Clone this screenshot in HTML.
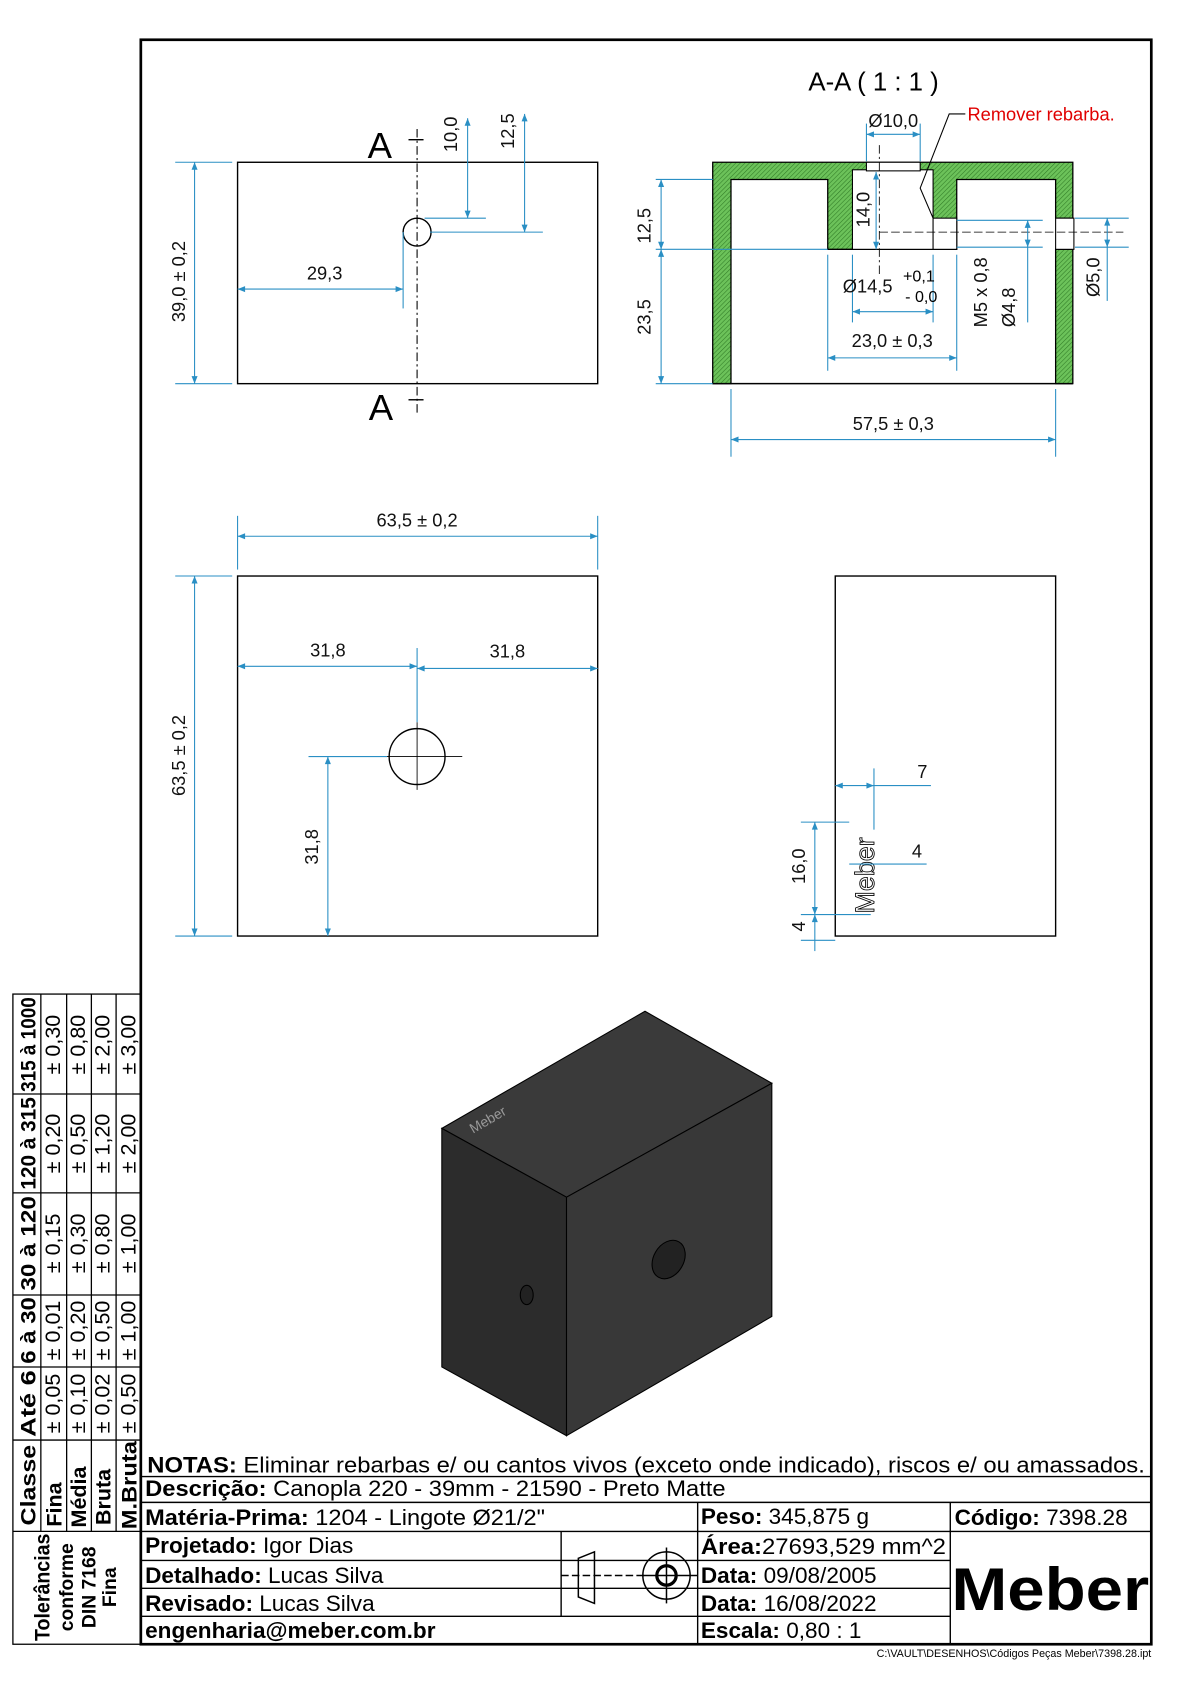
<!DOCTYPE html>
<html><head><meta charset="utf-8"><style>
html,body{margin:0;padding:0;background:#fff}
svg{display:block}
text{font-family:"Liberation Sans",Arial,sans-serif}
.d{stroke:#2a8fc4;stroke-width:1;fill:none}
.k{stroke:#000;stroke-width:1.3;fill:none}
.t{font-size:17px;fill:#111}
.n{font-family:"Liberation Sans Narrow","Liberation Sans",sans-serif;font-size:21px;fill:#000}
</style></head><body>
<svg width="1190" height="1684" viewBox="0 0 1107 1567" preserveAspectRatio="none" xmlns="http://www.w3.org/2000/svg">
<defs>
<marker id="a" viewBox="0 0 10 10" refX="10" refY="5" markerWidth="9" markerHeight="7" orient="auto-start-reverse" markerUnits="userSpaceOnUse"><path d="M0,1 L10,5 L0,9z" fill="#2a8fc4"/></marker>
<pattern id="h" width="3" height="3" patternUnits="userSpaceOnUse" patternTransform="rotate(45)"><rect width="3" height="3" fill="#6cc25a"/><line x1="0" y1="0" x2="0" y2="3" stroke="#2f7a25" stroke-width="1"/></pattern>
</defs>
<rect x="131" y="37" width="940" height="1493" fill="none" stroke="#000" stroke-width="2.5"/>

<!-- TOP VIEW -->
<rect x="221" y="151" width="335" height="206" class="k"/>
<line x1="388" y1="120" x2="388" y2="385" stroke="#000" stroke-width="1" stroke-dasharray="8,3,2,3"/>
<circle cx="388" cy="216" r="13" class="k"/>
<line x1="380" y1="130" x2="394" y2="130" stroke="#000" stroke-width="1.3"/>
<line x1="380" y1="372" x2="394" y2="372" stroke="#000" stroke-width="1.3"/>
<text x="342" y="147" font-size="34">A</text>
<text x="343" y="391" font-size="34">A</text>
<line x1="163" y1="151" x2="216" y2="151" class="d"/><line x1="163" y1="357" x2="216" y2="357" class="d"/>
<line x1="181" y1="151" x2="181" y2="357" class="d" marker-start="url(#a)" marker-end="url(#a)"/>
<text class="t" transform="translate(172,262) rotate(-90)" text-anchor="middle">39,0 ± 0,2</text>
<line x1="221" y1="269" x2="375" y2="269" class="d" marker-start="url(#a)" marker-end="url(#a)"/>
<line x1="375" y1="216" x2="375" y2="287" class="d"/>
<text class="t" x="302" y="260" text-anchor="middle">29,3</text>
<line x1="435" y1="110" x2="435" y2="203" class="d" marker-start="url(#a)" marker-end="url(#a)"/>
<line x1="395" y1="203" x2="452" y2="203" class="d"/>
<text class="t" transform="translate(425,125) rotate(-90)" text-anchor="middle">10,0</text>
<line x1="488" y1="106" x2="488" y2="216" class="d" marker-start="url(#a)" marker-end="url(#a)"/>
<line x1="400" y1="216" x2="505" y2="216" class="d"/>
<text class="t" transform="translate(478,122) rotate(-90)" text-anchor="middle">12,5</text>

<!-- SECTION A-A -->
<text x="752" y="84" font-size="24">A-A  ( 1 : 1 )</text>
<path d="M663,151 H998 V357 H982 V232 H998 V203 H982 V167 H890 V232 H770 V167 H680 V357 H663 Z" fill="url(#h)" stroke="#000" stroke-width="1.2"/>
<rect x="793" y="158" width="75" height="74" fill="#fff" stroke="#000" stroke-width="1"/>
<rect x="806" y="151" width="50" height="8" fill="#fff" stroke="#000" stroke-width="1"/>
<rect x="868" y="203" width="22" height="29" fill="#fff" stroke="#000" stroke-width="1"/>
<rect x="982" y="203" width="17" height="29" fill="#fff" stroke="#000" stroke-width="1"/>
<line x1="663" y1="357" x2="998" y2="357" stroke="#000" stroke-width="1.4"/>
<line x1="818" y1="135" x2="818" y2="257" stroke="#000" stroke-width="0.8" stroke-dasharray="8,3,2,3"/>
<line x1="818" y1="216" x2="1045" y2="216" stroke="#000" stroke-width="0.8" stroke-dasharray="8,3"/>
<text x="900" y="112" font-size="17" fill="#e00000">Remover rebarba.</text>
<polyline points="898,106 883,106 856,175 868,203" fill="none" stroke="#000" stroke-width="1"/>
<line x1="806" y1="115" x2="806" y2="150" class="d"/><line x1="856" y1="115" x2="856" y2="150" class="d"/>
<line x1="806" y1="125" x2="856" y2="125" class="d" marker-start="url(#a)" marker-end="url(#a)"/>
<text class="t" x="831" y="118" text-anchor="middle">Ø10,0</text>
<line x1="815" y1="160" x2="815" y2="232" class="d" marker-start="url(#a)" marker-end="url(#a)"/>
<text class="t" transform="translate(809,195) rotate(-90)" text-anchor="middle">14,0</text>
<line x1="610" y1="167" x2="663" y2="167" class="d"/><line x1="610" y1="232" x2="770" y2="232" class="d"/><line x1="610" y1="357" x2="663" y2="357" class="d"/>
<line x1="615" y1="167" x2="615" y2="232" class="d" marker-start="url(#a)" marker-end="url(#a)"/>
<line x1="615" y1="232" x2="615" y2="357" class="d" marker-start="url(#a)" marker-end="url(#a)"/>
<text class="t" transform="translate(605,210) rotate(-90)" text-anchor="middle">12,5</text>
<text class="t" transform="translate(605,295) rotate(-90)" text-anchor="middle">23,5</text>
<line x1="793" y1="237" x2="793" y2="300" class="d"/><line x1="868" y1="237" x2="868" y2="300" class="d"/>
<line x1="793" y1="290" x2="868" y2="290" class="d" marker-start="url(#a)" marker-end="url(#a)"/>
<text class="t" x="784" y="272">Ø14,5</text>
<text x="840" y="262" font-size="15">+0,1</text><text x="842" y="281" font-size="15">- 0,0</text>
<line x1="770" y1="237" x2="770" y2="345" class="d"/><line x1="890" y1="237" x2="890" y2="345" class="d"/>
<line x1="770" y1="333" x2="890" y2="333" class="d" marker-start="url(#a)" marker-end="url(#a)"/>
<text class="t" x="830" y="323" text-anchor="middle">23,0 ± 0,3</text>
<line x1="890" y1="205" x2="970" y2="205" class="d"/><line x1="890" y1="230" x2="970" y2="230" class="d"/>
<line x1="956" y1="205" x2="956" y2="230" class="d" marker-start="url(#a)" marker-end="url(#a)"/>
<line x1="956" y1="230" x2="956" y2="300" class="d"/>
<text class="t" transform="translate(918,272) rotate(-90)" text-anchor="middle">M5 x 0,8</text>
<text class="t" transform="translate(944,286) rotate(-90)" text-anchor="middle">Ø4,8</text>
<line x1="1000" y1="203" x2="1050" y2="203" class="d"/><line x1="1000" y1="230" x2="1050" y2="230" class="d"/>
<line x1="1030" y1="203" x2="1030" y2="230" class="d" marker-start="url(#a)" marker-end="url(#a)"/>
<line x1="1030" y1="230" x2="1030" y2="280" class="d"/>
<text class="t" transform="translate(1023,258) rotate(-90)" text-anchor="middle">Ø5,0</text>
<line x1="680" y1="362" x2="680" y2="425" class="d"/><line x1="982" y1="362" x2="982" y2="425" class="d"/>
<line x1="680" y1="409" x2="982" y2="409" class="d" marker-start="url(#a)" marker-end="url(#a)"/>
<text class="t" x="831" y="400" text-anchor="middle">57,5 ± 0,3</text>

<!-- FRONT VIEW -->
<rect x="221" y="536" width="335" height="335" class="k"/>
<line x1="221" y1="480" x2="221" y2="530" class="d"/><line x1="556" y1="480" x2="556" y2="530" class="d"/>
<line x1="221" y1="499" x2="556" y2="499" class="d" marker-start="url(#a)" marker-end="url(#a)"/>
<text class="t" x="388" y="490" text-anchor="middle">63,5 ± 0,2</text>
<line x1="163" y1="536" x2="216" y2="536" class="d"/><line x1="163" y1="871" x2="216" y2="871" class="d"/>
<line x1="181" y1="536" x2="181" y2="871" class="d" marker-start="url(#a)" marker-end="url(#a)"/>
<text class="t" transform="translate(172,703) rotate(-90)" text-anchor="middle">63,5 ± 0,2</text>
<circle cx="388" cy="704" r="26" class="k"/>
<line x1="355" y1="704" x2="430" y2="704" stroke="#000" stroke-width="0.8"/>
<line x1="388" y1="672" x2="388" y2="735" stroke="#000" stroke-width="0.8"/>
<line x1="388" y1="603" x2="388" y2="672" class="d"/>
<line x1="221" y1="620" x2="388" y2="620" class="d" marker-start="url(#a)" marker-end="url(#a)"/>
<line x1="388" y1="622" x2="556" y2="622" class="d" marker-start="url(#a)" marker-end="url(#a)"/>
<text class="t" x="305" y="611" text-anchor="middle">31,8</text>
<text class="t" x="472" y="612" text-anchor="middle">31,8</text>
<line x1="287" y1="704" x2="360" y2="704" class="d"/>
<line x1="305" y1="704" x2="305" y2="871" class="d" marker-start="url(#a)" marker-end="url(#a)"/>
<text class="t" transform="translate(296,788) rotate(-90)" text-anchor="middle">31,8</text>

<!-- SIDE VIEW -->
<rect x="777" y="536" width="205" height="335" class="k"/>
<text transform="translate(813,850) rotate(-90)" font-size="25" fill="#fff" stroke="#000" stroke-width="0.8">Meber</text>
<line x1="813" y1="715" x2="813" y2="772" class="d"/>
<line x1="777" y1="731" x2="813" y2="731" class="d" marker-start="url(#a)" marker-end="url(#a)"/>
<line x1="813" y1="731" x2="866" y2="731" class="d"/>
<text class="t" x="858" y="724" text-anchor="middle">7</text>
<line x1="790" y1="804" x2="862" y2="804" class="d"/>
<text class="t" x="853" y="798" text-anchor="middle">4</text>
<line x1="745" y1="765" x2="790" y2="765" class="d"/><line x1="745" y1="851" x2="810" y2="851" class="d"/><line x1="745" y1="875" x2="777" y2="875" class="d"/>
<line x1="758" y1="765" x2="758" y2="851" class="d" marker-start="url(#a)" marker-end="url(#a)"/>
<line x1="758" y1="851" x2="758" y2="885" class="d" marker-start="url(#a)"/>
<text class="t" transform="translate(749,806) rotate(-90)" text-anchor="middle">16,0</text>
<text class="t" transform="translate(749,862) rotate(-90)" text-anchor="middle">4</text>

<!-- ISO -->
<polygon points="600,941 718,1008 527,1114 411,1050" fill="#3a3a3a" stroke="#000" stroke-width="1"/>
<polygon points="411,1050 527,1114 527,1336 411,1272" fill="#2c2c2c" stroke="#000" stroke-width="1"/>
<polygon points="527,1114 718,1008 718,1225 527,1336" fill="#383838" stroke="#000" stroke-width="1"/>
<ellipse cx="622" cy="1172" rx="14" ry="19" transform="rotate(30 622 1172)" fill="#222" stroke="#000"/>
<ellipse cx="490" cy="1205" rx="6" ry="9" fill="#222" stroke="#000"/>
<text transform="translate(440,1055) rotate(-30)" font-size="13" fill="#999">Meber</text>

<!-- TOLERANCE TABLE -->
<g stroke="#000" stroke-width="1.2" fill="none">
<rect x="12" y="925" width="119" height="605"/>
<line x1="38" y1="925" x2="38" y2="1425"/><line x1="62" y1="925" x2="62" y2="1425"/><line x1="85" y1="925" x2="85" y2="1425"/><line x1="108" y1="925" x2="108" y2="1425"/>
<line x1="12" y1="1018" x2="131" y2="1018"/><line x1="12" y1="1110" x2="131" y2="1110"/><line x1="12" y1="1205" x2="131" y2="1205"/><line x1="12" y1="1272" x2="131" y2="1272"/><line x1="12" y1="1340" x2="131" y2="1340"/><line x1="12" y1="1425" x2="131" y2="1425"/>
</g>
<g font-size="20">
<g font-weight="bold">
<text transform="translate(33,972) rotate(-90)" text-anchor="middle" textLength="88" lengthAdjust="spacingAndGlyphs">315 à 1000</text>
<text transform="translate(33,1064) rotate(-90)" text-anchor="middle" textLength="86" lengthAdjust="spacingAndGlyphs">120 à 315</text>
<text transform="translate(33,1157) rotate(-90)" text-anchor="middle" textLength="88" lengthAdjust="spacingAndGlyphs">30 à 120</text>
<text transform="translate(33,1238) rotate(-90)" text-anchor="middle" textLength="62" lengthAdjust="spacingAndGlyphs">6 à 30</text>
<text transform="translate(33,1306) rotate(-90)" text-anchor="middle" textLength="62" lengthAdjust="spacingAndGlyphs">Até 6</text>
<text transform="translate(33,1382) rotate(-90)" text-anchor="middle" textLength="75" lengthAdjust="spacingAndGlyphs">Classe</text>
<text transform="translate(57,1400) rotate(-90)" text-anchor="middle">Fina</text>
<text transform="translate(80,1393) rotate(-90)" text-anchor="middle">Média</text>
<text transform="translate(103,1393) rotate(-90)" text-anchor="middle">Bruta</text>
<text transform="translate(127,1382) rotate(-90)" text-anchor="middle" textLength="82" lengthAdjust="spacingAndGlyphs">M.Bruta</text>
<text transform="translate(46,1477) rotate(-90)" text-anchor="middle" textLength="100" lengthAdjust="spacingAndGlyphs">Tolerâncias</text>
<text transform="translate(68,1477) rotate(-90)" text-anchor="middle" font-size="18">conforme</text>
<text transform="translate(89,1477) rotate(-90)" text-anchor="middle" font-size="18">DIN 7168</text>
<text transform="translate(108,1477) rotate(-90)" text-anchor="middle" font-size="18">Fina</text>
</g>
<text transform="translate(56,972) rotate(-90)" text-anchor="middle">± 0,30</text>
<text transform="translate(79,972) rotate(-90)" text-anchor="middle">± 0,80</text>
<text transform="translate(102,972) rotate(-90)" text-anchor="middle">± 2,00</text>
<text transform="translate(126,972) rotate(-90)" text-anchor="middle">± 3,00</text>
<text transform="translate(56,1064) rotate(-90)" text-anchor="middle">± 0,20</text>
<text transform="translate(79,1064) rotate(-90)" text-anchor="middle">± 0,50</text>
<text transform="translate(102,1064) rotate(-90)" text-anchor="middle">± 1,20</text>
<text transform="translate(126,1064) rotate(-90)" text-anchor="middle">± 2,00</text>
<text transform="translate(56,1157) rotate(-90)" text-anchor="middle">± 0,15</text>
<text transform="translate(79,1157) rotate(-90)" text-anchor="middle">± 0,30</text>
<text transform="translate(102,1157) rotate(-90)" text-anchor="middle">± 0,80</text>
<text transform="translate(126,1157) rotate(-90)" text-anchor="middle">± 1,00</text>
<text transform="translate(56,1238) rotate(-90)" text-anchor="middle">± 0,01</text>
<text transform="translate(79,1238) rotate(-90)" text-anchor="middle">± 0,20</text>
<text transform="translate(102,1238) rotate(-90)" text-anchor="middle">± 0,50</text>
<text transform="translate(126,1238) rotate(-90)" text-anchor="middle">± 1,00</text>
<text transform="translate(56,1306) rotate(-90)" text-anchor="middle">± 0,05</text>
<text transform="translate(79,1306) rotate(-90)" text-anchor="middle">± 0,10</text>
<text transform="translate(102,1306) rotate(-90)" text-anchor="middle">± 0,02</text>
<text transform="translate(126,1306) rotate(-90)" text-anchor="middle">± 0,50</text>
</g>

<!-- TITLE BLOCK -->
<g stroke="#000" stroke-width="1.3">
<line x1="131" y1="1374" x2="1071" y2="1374"/><line x1="131" y1="1398" x2="1071" y2="1398"/>
<line x1="131" y1="1425" x2="1071" y2="1425"/>
<line x1="131" y1="1452" x2="884" y2="1452"/><line x1="131" y1="1478" x2="884" y2="1478"/><line x1="131" y1="1504" x2="884" y2="1504"/>
<line x1="649" y1="1398" x2="649" y2="1530"/><line x1="884" y1="1398" x2="884" y2="1530"/><line x1="522" y1="1425" x2="522" y2="1504"/>
</g>
<g stroke="#000" stroke-width="1.4" fill="none">
<polygon points="538,1450 553,1444 553,1492 538,1486"/>
<line x1="522" y1="1466" x2="600" y2="1466" stroke-dasharray="7,3"/>
<circle cx="620" cy="1466" r="22"/><circle cx="620" cy="1466" r="9" stroke-width="3"/>
<line x1="598" y1="1466" x2="649" y2="1466"/><line x1="620" y1="1440" x2="620" y2="1492"/>
</g>
<g class="n">
<text x="137" y="1370" font-size="21" textLength="928" lengthAdjust="spacingAndGlyphs"><tspan font-weight="bold">NOTAS:</tspan> Eliminar rebarbas e/ ou cantos vivos (exceto onde indicado), riscos e/ ou amassados.</text>
<text x="135" y="1392" textLength="540" lengthAdjust="spacingAndGlyphs"><tspan font-weight="bold">Descrição:</tspan> Canopla 220 - 39mm - 21590 - Preto Matte</text>
<text x="135" y="1419" textLength="372" lengthAdjust="spacingAndGlyphs"><tspan font-weight="bold">Matéria-Prima:</tspan> 1204 - Lingote Ø21/2"</text>
<text x="135" y="1445"><tspan font-weight="bold">Projetado:</tspan> Igor Dias</text>
<text x="135" y="1473"><tspan font-weight="bold">Detalhado:</tspan> Lucas Silva</text>
<text x="135" y="1499"><tspan font-weight="bold">Revisado:</tspan> Lucas Silva</text>
<text x="135" y="1524" font-weight="bold">engenharia@meber.com.br</text>
<text x="652" y="1418"><tspan font-weight="bold">Peso:</tspan> 345,875 g</text>
<text x="652" y="1446" textLength="228" lengthAdjust="spacingAndGlyphs"><tspan font-weight="bold">Área:</tspan>27693,529 mm^2</text>
<text x="652" y="1473"><tspan font-weight="bold">Data:</tspan> 09/08/2005</text>
<text x="652" y="1499"><tspan font-weight="bold">Data:</tspan> 16/08/2022</text>
<text x="652" y="1524"><tspan font-weight="bold">Escala:</tspan> 0,80 : 1</text>
<text x="888" y="1419"><tspan font-weight="bold">Código:</tspan> 7398.28</text>
</g>
<text x="885" y="1498" font-size="56" font-weight="bold" textLength="184" lengthAdjust="spacingAndGlyphs">Meber</text>
<text x="1071" y="1542" font-size="10" text-anchor="end">C:\VAULT\DESENHOS\Códigos Peças Meber\7398.28.ipt</text>
</svg>
</body></html>
